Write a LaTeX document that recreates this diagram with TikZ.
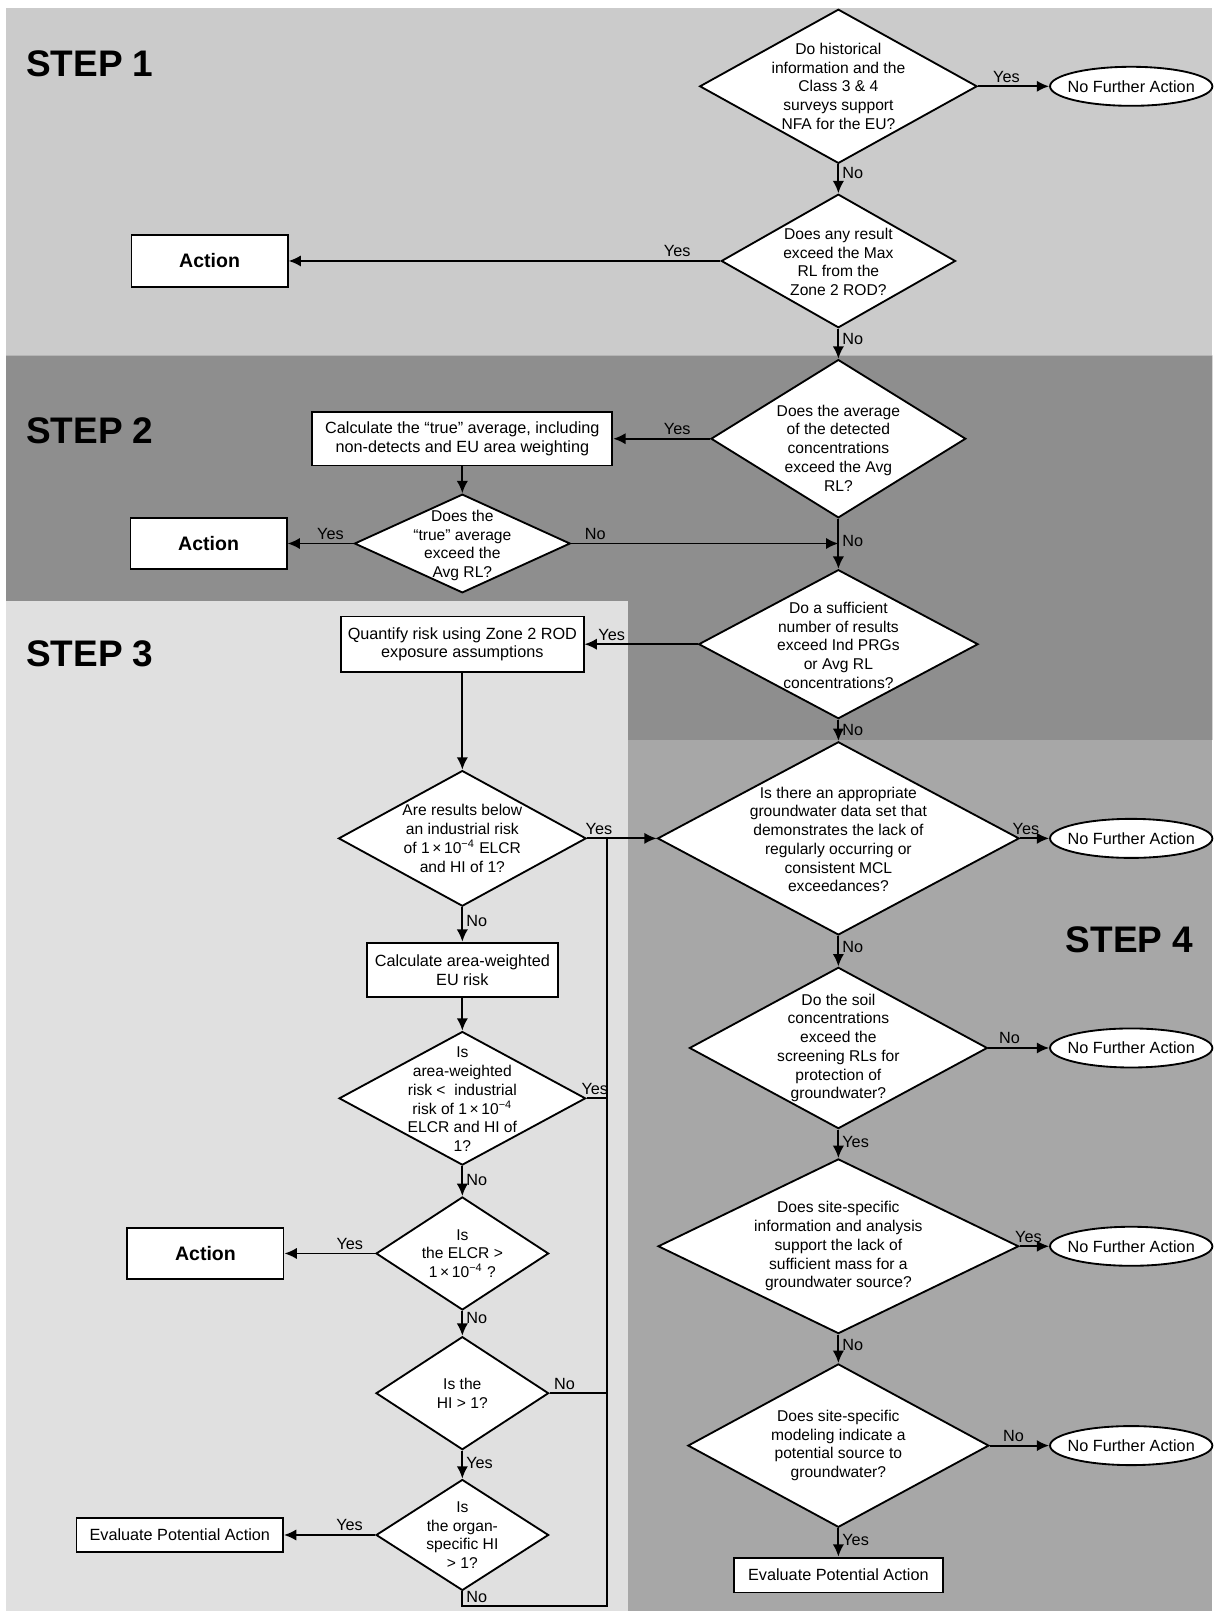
\documentclass[tikz,border=0pt]{standalone}
\usepackage{fontspec}
\setmainfont{Liberation Sans}
\usetikzlibrary{shapes.geometric,arrows.meta}
\definecolor{stepA}{RGB}{203,203,203}
\definecolor{stepB}{RGB}{142,142,142}
\definecolor{stepC}{RGB}{224,224,224}
\definecolor{stepD}{RGB}{167,167,167}
\newcommand{\nf}{\fontsize{7.9}{9.1}\selectfont}
\newcommand{\df}{\fontsize{7.6}{9.1}\selectfont}
\newcommand{\tenfour}{1\,×\,10\textsuperscript{−4}}
\begin{document}
\begin{tikzpicture}[x=0.5pt,y=-0.5pt,
  dsz/.style 2 args={minimum width=#1*0.5pt, minimum height=#2*0.5pt},
  dia/.style={shape=diamond, draw, fill=white, line width=0.9pt, inner sep=0pt},
  dtxt/.style={font=\df, align=center, inner sep=0pt},
  box/.style={draw, fill=white, line width=0.9pt, inner sep=0pt, align=center, font=\nf},
  actbox/.style={box, font=\fontsize{9.5}{11}\selectfont\bfseries},
  nfa/.style={shape=ellipse, draw, fill=white, line width=0.9pt, inner sep=0pt, font=\nf, minimum width=79pt, minimum height=19pt},
  arr/.style={line width=0.9pt, -{Latex[length=6pt,width=5.5pt]}},
  con/.style={line width=0.9pt},
  lab/.style={font=\nf, inner sep=1.5pt},
  steplab/.style={font=\fontsize{18}{20}\selectfont\bfseries, inner sep=0pt, anchor=west}
]
\useasboundingbox (0,0) rectangle (1188,1568);
\fill[white] (0,0) rectangle (1188,1568);
% background bands
\fill[stepA] (6,8) rectangle (1180,346);
\fill[stepB] (6,346) -- (1180,346) -- (1180,720) -- (611,720) -- (611,585) -- (6,585) -- cycle;
\fill[stepC] (6,585) rectangle (611,1568);
\fill[stepD] (611,720) rectangle (1180,1568);

% step labels
\node[steplab] (s1) at (25,62) {STEP 1};
\node[steplab] (s2) at (25,419) {STEP 2};
\node[steplab] (s3) at (25,636) {STEP 3};
\node[steplab] (s4) at (1037,915) {STEP 4};

% STEP 1
\node[dia, dsz={270}{150}] (d1) at (816,84) {};
\node[dtxt] (d1t) at (816,84) {Do historical\\information and the\\Class 3 \& 4\\surveys support\\NFA for the EU?};
\node[nfa] (nfa1) at (1101,84) {\makebox[0pt]{No Further Action}};
\node[dia, dsz={228}{130}] (d2) at (816,254) {};
\node[dtxt] (d2t) at (816,255) {Does any result\\exceed the Max\\RL from the\\Zone 2 ROD?};
\node[actbox, dsz={152}{50}] (act1) at (204,254) {Action};

% STEP 2
\node[dia, dsz={248}{154}] (d3) at (816,427) {};
\node[dtxt] (d3t) at (816,436) {Does the average\\of the detected\\concentrations\\exceed the Avg\\RL?};
\node[box, dsz={292}{52}] (calc1) at (450,427) {Calculate the ``true'' average, including\\non-detects and EU area weighting};
\node[dia, dsz={210}{96}] (d3b) at (450,529) {};
\node[dtxt] (d3bt) at (450,531) {Does the\\``true'' average\\exceed the\\Avg RL?};
\node[actbox, dsz={152}{49}] (act2) at (203,529) {Action};
\node[dia, dsz={272}{145}] (d4) at (816,627) {};
\node[dtxt] (d4t) at (816,628) {Do a sufficient\\number of results\\exceed Ind PRGs\\or Avg RL\\concentrations?};
\node[box, dsz={236}{54}] (quant) at (450,627) {Quantify risk using Zone 2 ROD\\exposure assumptions};

% STEP 3
\node[dia, dsz={241}{132}] (d6) at (450,816) {};
\node[dtxt] (d6t) at (450,816) {Are results below\\an industrial risk\\of \tenfour{} ELCR\\and HI of 1?};
\node[box, dsz={186}{53}] (calc2) at (450,944) {Calculate area-weighted\\EU risk};
\node[dia, dsz={240}{130}] (d7) at (450,1069) {};
\node[dtxt] (d7t) at (450,1070) {Is\\area-weighted\\risk <\ \ industrial\\risk of \tenfour\\ELCR and HI of\\1?};
\node[dia, dsz={168}{110}] (d8) at (450,1220) {};
\node[dtxt] (d8t) at (450,1220) {Is\\the ELCR >\\\tenfour{} ?};
\node[actbox, dsz={152}{49}] (act3) at (200,1220) {Action};
\node[dia, dsz={168}{110}] (d9) at (450,1356) {};
\node[dtxt] (d9t) at (450,1356) {Is the\\HI > 1?};
\node[dia, dsz={168}{108}] (d10) at (450,1494) {};
\node[dtxt] (d10t) at (450,1494) {Is\\the organ-\\specific HI\\> 1?};
\node[box, dsz={201}{33}] (epa1) at (175,1494) {Evaluate Potential Action};
\coordinate (bus) at (591,816);
\coordinate (busbot) at (591,1563);

% STEP 4
\node[dia, dsz={352}{188}] (d5) at (816,816) {};
\node[dtxt] (d5t) at (816,817) {Is there an appropriate\\groundwater data set that\\demonstrates the lack of\\regularly occurring or\\consistent MCL\\exceedances?};
\node[nfa] (nfa2) at (1101,816) {\makebox[0pt]{No Further Action}};
\node[dia, dsz={290}{157}] (d11) at (816,1020) {};
\node[dtxt] (d11t) at (816,1020) {Do the soil\\concentrations\\exceed the\\screening RLs for\\protection of\\groundwater?};
\node[nfa] (nfa3) at (1101,1020) {\makebox[0pt]{No Further Action}};
\node[dia, dsz={351}{170}] (d12) at (816,1213) {};
\node[dtxt] (d12t) at (816,1213) {Does site-specific\\information and analysis\\support the lack of\\sufficient mass for a\\groundwater source?};
\node[nfa] (nfa4) at (1101,1213) {\makebox[0pt]{No Further Action}};
\node[dia, dsz={293}{159}] (d13) at (816,1407) {};
\node[dtxt] (d13t) at (816,1407) {Does site-specific\\modeling indicate a\\potential source to\\groundwater?};
\node[nfa] (nfa5) at (1101,1407) {\makebox[0pt]{No Further Action}};
\node[box, dsz={204}{34}] (epa2) at (816,1533) {Evaluate Potential Action};

% connectors STEP 1
\draw[arr] (d1.east) -- (nfa1.west) node[lab, pos=0.4, above] {Yes};
\draw[arr] (d1.south) -- (d2.north) node[lab, pos=0.3, right] {No};
\draw[arr] (d2.west) -- (act1.east) node[lab, pos=0.1, above] {Yes};
\draw[arr] (d2.south) -- (d3.north) node[lab, pos=0.35, right] {No};

% connectors STEP 2
\draw[arr] (d3.west) -- (calc1.east) node[lab, pos=0.34, above] {Yes};
\draw[arr] (calc1.south) -- (d3b.north);
\draw[arr] (d3b.west) -- (act2.east) node[lab, pos=0.35, above] {Yes};
\draw[arr] (d3b.east) -- (d3b.east -| d3.south) node[lab, pos=0.09, above] {No};
\draw[arr] (d3.south) -- (d4.north) node[lab, pos=0.45, right] {No};
\draw[arr] (d4.west) -- (quant.east) node[lab, pos=0.76, above] {Yes};
\draw[arr] (d4.south) -- (d5.north) node[lab, pos=0.5, right] {No};

% connectors STEP 3
\draw[arr] (quant.south) -- (d6.north);
\draw[arr] (d6.east) -- (d5.west) node[lab, pos=0.17, above] {Yes};
\draw[arr] (d6.south) -- (calc2.north) node[lab, pos=0.4, right] {No};
\draw[arr] (calc2.south) -- (d7.north);
\draw[con] (d7.east) -- (d7.east -| bus) node[lab, pos=0.4, above] {Yes};
\draw[arr] (d7.south) -- (d8.north) node[lab, pos=0.45, right] {No};
\draw[arr] (d8.west) -- (act3.east) node[lab, pos=0.28, above] {Yes};
\draw[arr] (d8.south) -- (d9.north) node[lab, pos=0.3, right] {No};
\draw[con] (d9.east) -- (d9.east -| bus) node[lab, pos=0.26, above] {No};
\draw[arr] (d9.south) -- (d10.north) node[lab, pos=0.45, right] {Yes};
\draw[arr] (d10.west) -- (epa1.east) node[lab, pos=0.28, above] {Yes};
\draw[con] (d10.south) -- (d10.south |- busbot) node[lab, pos=0.4, right] {No} -- (busbot) -- (bus);

% connectors STEP 4
\draw[arr] (d5.east) -- (nfa2.west) node[lab, pos=0.2, above] {Yes};
\draw[arr] (d5.south) -- (d11.north) node[lab, pos=0.35, right] {No};
\draw[arr] (d11.east) -- (nfa3.west) node[lab, pos=0.35, above] {No};
\draw[arr] (d11.south) -- (d12.north) node[lab, pos=0.45, right] {Yes};
\draw[arr] (d12.east) -- (nfa4.west) node[lab, pos=0.3, above] {Yes};
\draw[arr] (d12.south) -- (d13.north) node[lab, pos=0.35, right] {No};
\draw[arr] (d13.east) -- (nfa5.west) node[lab, pos=0.4, above] {No};
\draw[arr] (d13.south) -- (epa2.north) node[lab, pos=0.4, right] {Yes};
\end{tikzpicture}
\end{document}
